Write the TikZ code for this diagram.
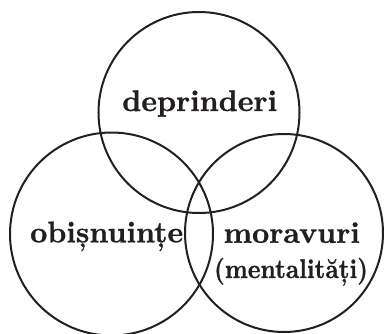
\documentclass[tikz,border=0pt]{standalone}
\usepackage{fontspec}
\newfontfamily\lblfont{lmroman10-bold}[Extension=.otf, FakeBold=0.9]
\definecolor{ink}{RGB}{35,31,32}
\tikzset{
  ring/.style={circle, draw=ink, line width=2pt, inner sep=0pt},
  lbl/.style={anchor=base, inner sep=0pt, text=ink, font=\lblfont\fontsize{29.8}{33}\selectfont},
  sublbl/.style={anchor=base, inner sep=0pt, text=ink, font=\lblfont\fontsize{27}{30}\selectfont}
}
\begin{document}
\begin{tikzpicture}[x=1pt,y=-1pt]
\useasboundingbox (0,0) rectangle (384,333);
\clip (0,0) rectangle (384,333);
\node[ring, minimum size=201pt] (top) at (199,112.5) {};
\node[ring, minimum size=203pt] (left) at (111.5,234) {};
\node[ring, minimum size=198pt] (right) at (284,233) {};
\node[lbl] (t1) at (199.7,111) {deprinderi};
\node[lbl] (t2) at (106.7,242.3) {obișnuințe};
\node[lbl] (t3) at (291.7,242.8) {moravuri};
\node[sublbl] (t4) at (291,278) {\scalebox{0.89}[1]{(mentalități)}};
\end{tikzpicture}
\end{document}
